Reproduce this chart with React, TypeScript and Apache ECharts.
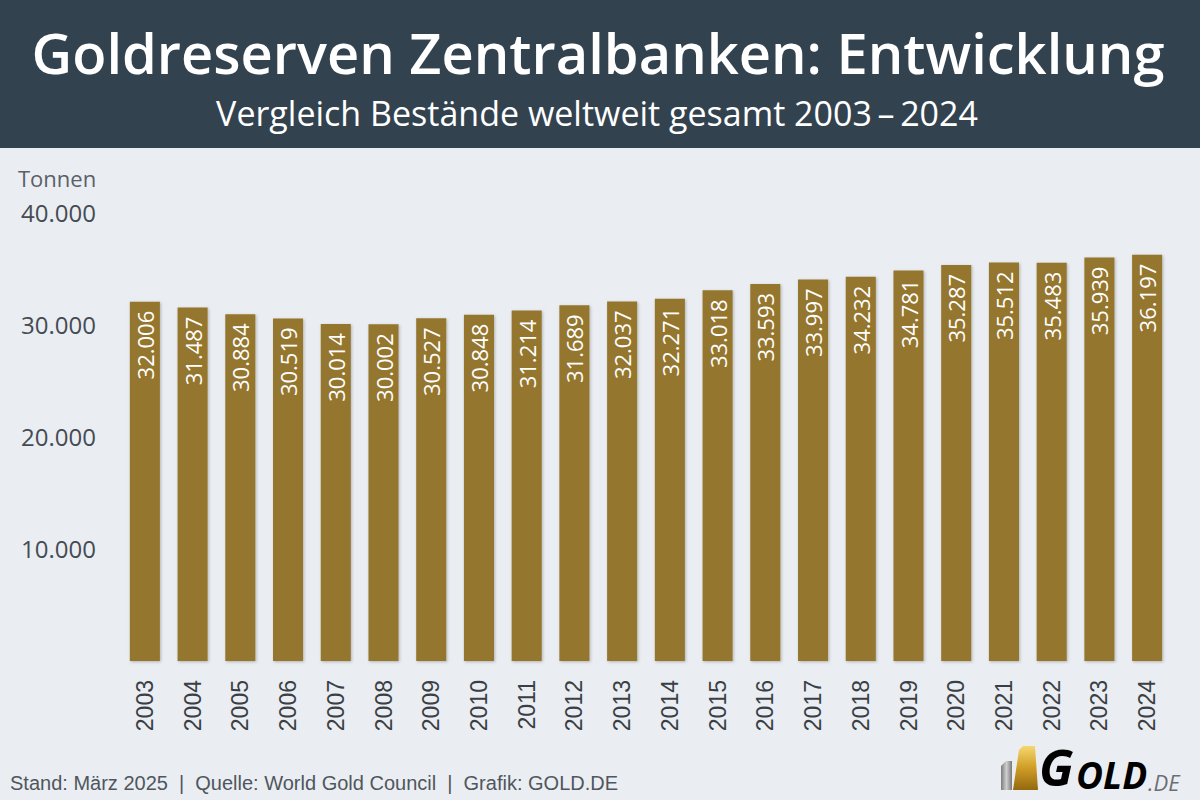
import React, { useEffect, useRef } from "react";
import * as echarts from "echarts";

const years = ["2003","2004","2005","2006","2007","2008","2009","2010","2011","2012","2013","2014","2015","2016","2017","2018","2019","2020","2021","2022","2023","2024"];
const tonnes = [32006,31487,30884,30519,30014,30002,30527,30848,31214,31689,32037,32271,33018,33593,33997,34232,34781,35287,35512,35483,35939,36197];
const yTicks = [0, 10000, 20000, 30000, 40000];

const titleText = "Goldreserven Zentralbanken: Entwicklung";
const subtitleText = "Vergleich Bestände weltweit gesamt 2003\u2009\u2013\u20092024";
const unitText = "Tonnen";
const footerText = "Stand: März 2025  |  Quelle: World Gold Council  |  Grafik: GOLD.DE";

const fmt = (v: number) => {
  const s = String(Math.round(v));
  return s.replace(/\B(?=(\d{3})+(?!\d))/g, ".");
};

export default function App() {
  const ref = useRef<HTMLDivElement>(null);
  useEffect(() => {
    if (!ref.current) return;
    const chart = echarts.init(ref.current, null, { renderer: "svg" });
    const goldGrad = () =>
      new echarts.graphic.LinearGradient(0, 0, 0, 1, [
        { offset: 0, color: "#f5d870" },
        { offset: 0.5, color: "#cf9d25" },
        { offset: 1, color: "#94680f" },
      ]);
    const grayGrad = new echarts.graphic.LinearGradient(0, 0, 1, 0, [
      { offset: 0, color: "#7d7d7d" },
      { offset: 0.5, color: "#cfcfcf" },
      { offset: 1, color: "#777777" },
    ]);
    chart.setOption({
      animation: false,
      backgroundColor: "#eaeef2",
      grid: { left: 121, right: 29, top: 212, bottom: 139, containLabel: false },
      xAxis: {
        type: "category",
        data: years,
        axisLine: { show: false },
        axisTick: { show: false },
        axisLabel: {
          rotate: 90,
          margin: 19,
          fontSize: 23,
          fontFamily: "Liberation Sans, Arial, sans-serif",
          color: "#3a3f45",
        },
      },
      yAxis: {
        type: "value",
        min: 0,
        max: 40000,
        interval: 10000,
        splitLine: { show: false },
        axisLine: { show: false },
        axisTick: { show: false },
        axisLabel: {
          margin: 25,
          fontSize: 24,
          fontFamily: "Open Sans, sans-serif",
          color: "#454b53",
          formatter: (v: number) => (v === yTicks[0] ? "" : fmt(v)),
        },
      },
      series: [
        {
          type: "bar",
          data: tonnes,
          barCategoryGap: "37%",
          itemStyle: {
            color: "#95762f",
            shadowColor: "rgba(0,0,0,0.25)",
            shadowBlur: 3,
            shadowOffsetX: 1,
            shadowOffsetY: 1,
          },
          label: {
            show: true,
            position: "insideTop",
            rotate: 90,
            align: "right",
            verticalAlign: "middle",
            distance: 9,
            fontSize: 22,
            fontFamily: "Open Sans, sans-serif",
            color: "#ffffff",
            formatter: (p: any) => fmt(p.value),
          },
        },
      ],
      graphic: [
        { type: "rect", left: 0, top: 0, shape: { width: 1200, height: 148 }, style: { fill: "#33424f" } },
        {
          type: "text",
          x: 598,
          y: 52,
          style: {
            text: titleText,
            fill: "#ffffff",
            font: "600 56px 'Open Sans', sans-serif",
            align: "center",
            verticalAlign: "middle",
          },
        },
        {
          type: "text",
          x: 597,
          y: 113,
          style: {
            text: subtitleText,
            fill: "#ffffff",
            font: "400 34px 'Open Sans', sans-serif",
            align: "center",
            verticalAlign: "middle",
          },
        },
        {
          type: "text",
          x: 18,
          y: 178,
          style: {
            text: unitText,
            fill: "#5a6068",
            font: "400 22px 'Open Sans', sans-serif",
            align: "left",
            verticalAlign: "middle",
          },
        },
        {
          type: "text",
          x: 10,
          y: 783,
          style: {
            text: footerText,
            fill: "#50565e",
            font: "400 20px 'Liberation Sans', Arial, sans-serif",
            align: "left",
            verticalAlign: "middle",
          },
        },
        {
          type: "polygon",
          shape: { points: [[1001, 766], [1006, 761], [1012, 761], [1012, 790], [1001, 790]] },
          style: { fill: grayGrad },
        },
        {
          type: "polygon",
          shape: { points: [[1019, 750], [1023, 746], [1035, 746], [1038, 790], [1013, 790]] },
          style: { fill: goldGrad() },
        },
        {
          type: "text",
          x: 1039,
          y: 767,
          style: {
            text: "G",
            fill: goldGrad(),
            font: "italic 700 50px 'Open Sans', sans-serif",
            align: "left",
            verticalAlign: "middle",
          },
        },
        {
          type: "text",
          x: 1076,
          y: 774,
          style: {
            text: "OLD",
            fill: goldGrad(),
            font: "italic 700 37px 'Open Sans', sans-serif",
            align: "left",
            verticalAlign: "middle",
          },
        },
        {
          type: "text",
          x: 1148,
          y: 782,
          style: {
            text: ".DE",
            fill: "#6b6f74",
            font: "italic 400 22px 'Open Sans', sans-serif",
            align: "left",
            verticalAlign: "middle",
          },
        },
      ],
    });
    return () => chart.dispose();
  }, []);
  return (
    <div
      ref={ref}
      style={{ position: "fixed", left: 0, top: 0, width: 1200, height: 800 }}
    />
  );
}
